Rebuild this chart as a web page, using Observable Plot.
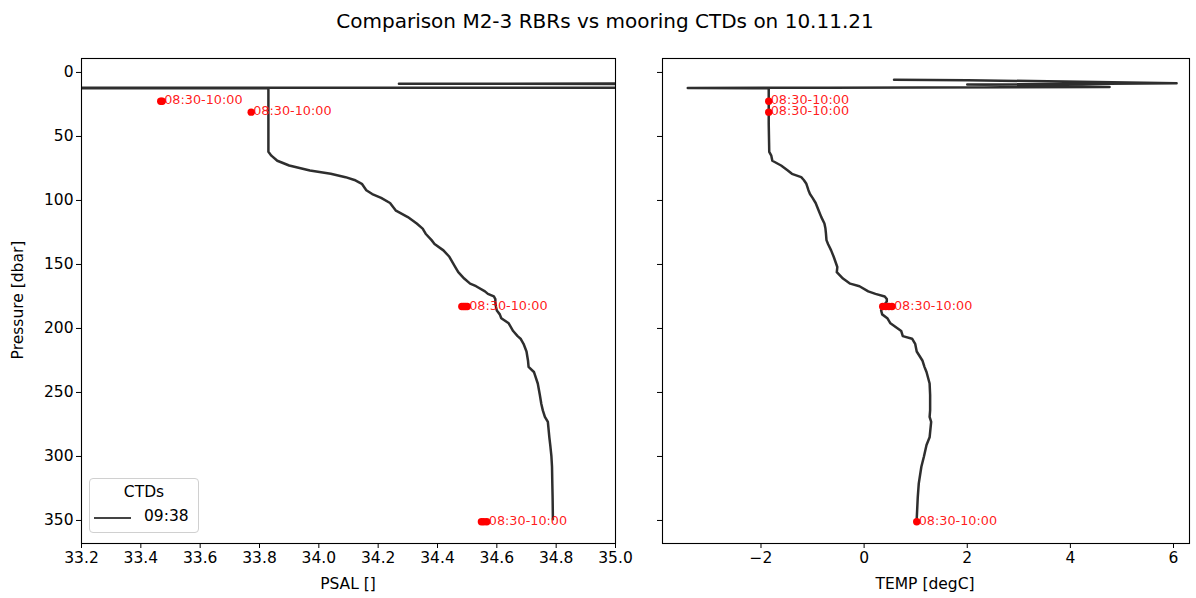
<!DOCTYPE html>
<html>
<head>
<meta charset="utf-8">
<script src="https://cdn.jsdelivr.net/npm/d3@7"></script>
<script src="https://cdn.jsdelivr.net/npm/@observablehq/plot@0.6"></script>
<style>
  html, body { margin: 0; padding: 0; background: white; }
  #fig { position: relative; width: 1196px; height: 598px; font-family: "DejaVu Sans", sans-serif; color: black; overflow: hidden; background: white; }
  #fig .abs { position: absolute; white-space: nowrap; z-index: 2; }
  #title { top: 9px; left: 605px; transform: translateX(-50%); font-size: 20px; }
  .axlabel { font-size: 15.5px; }
  #legend { left: 89px; top: 478px; width: 110px; height: 55px; border: 1px solid #d0d0d0; border-radius: 4px; background: rgba(255,255,255,0.8); box-sizing: border-box; }
</style>
</head>
<body>
<div id="fig">
  <div id="title" class="abs"></div>
</div>
<script>
// ---- CTD cast (09:38): pressure [dbar], PSAL [], TEMP [degC] ----
const ctdPressure = [5.7, 6.0, 8.4, 8.8, 9.4, 11.3, 11.9, 12.2, 12.3, 12.4,
  20, 40, 62, 65, 69, 72.7, 76.6, 79.2, 81.8, 84, 87, 92, 95, 98, 102, 108, 113, 118, 122, 126,
  131, 134, 139, 144, 152, 156, 161, 165, 167, 171, 173, 175, 177, 179, 183, 186, 189, 192, 196,
  202, 206, 208, 212, 218, 225, 230, 234, 243, 252, 259, 264, 269, 273, 285, 291, 300, 308, 321, 332, 349];
const ctdPsal = [37.2, 37.0, 36.8, 34.27, 36.5, 36.2, 36.0, 20.0, 28.0, 33.83,
  33.83, 33.83, 33.83, 33.84, 33.86, 33.90, 33.97, 34.04, 34.09, 34.12, 34.145, 34.16, 34.18, 34.21, 34.24, 34.26, 34.30, 34.33, 34.35, 34.36,
  34.38, 34.39, 34.42, 34.44, 34.46, 34.47, 34.49, 34.51, 34.53, 34.56, 34.57, 34.59, 34.595, 34.595, 34.597, 34.60, 34.61, 34.615, 34.64,
  34.655, 34.67, 34.68, 34.69, 34.70, 34.705, 34.707, 34.725, 34.738, 34.745, 34.75, 34.755, 34.762, 34.772, 34.777, 34.78, 34.784, 34.786, 34.787, 34.788, 34.789];
const ctdTemp = [0.58, 2.0, 6.06, 4.76, 2.0, 4.76, -0.69, -3.42, -2.16, -1.85,
  -1.85, -1.85, -1.84, -1.80, -1.78, -1.61, -1.48, -1.40, -1.22, -1.17, -1.12, -1.08, -1.05, -1.00, -0.94, -0.88, -0.83, -0.77, -0.75, -0.74,
  -0.73, -0.70, -0.64, -0.59, -0.52, -0.53, -0.41, -0.27, -0.09, 0.08, 0.22, 0.40, 0.44, 0.44, 0.36, 0.33, 0.35, 0.45, 0.51,
  0.72, 0.75, 0.93, 0.99, 1.02, 1.13, 1.17, 1.21, 1.27, 1.28, 1.28, 1.28, 1.27, 1.30, 1.27, 1.21, 1.16, 1.11, 1.06, 1.04, 1.02];
const ctdLabel = "09:38";

// ---- Moored RBRs, samples 08:30-10:00 ----
const rbrPressure = [22.5, 31.0, 182.8, 351.0];
const rbrPsal = [[33.467, 33.472], [33.772], [34.482, 34.488, 34.494, 34.500], [34.548, 34.556, 34.566]];
const rbrTemp = [[-1.85], [-1.85], [0.36, 0.42, 0.48, 0.54], [1.02]];
const rbrLabel = "08:30-10:00";

// ---- axes ----
const pressureTicks = [0, 50, 100, 150, 200, 250, 300, 350];
const psalTicks = [33.2, 33.4, 33.6, 33.8, 34.0, 34.2, 34.4, 34.6, 34.8, 35.0];
const tempTicks = [-2, 0, 2, 4, 6];
const titleText = "Comparison M2-3 RBRs vs mooring CTDs on 10.11.21";

// tables built from the arrays
const ctd = ctdPressure.map((p, i) => ({p, psal: ctdPsal[i], temp: ctdTemp[i]}));
const dotsFrom = vals => vals.flatMap((arr, i) => arr.map(v => ({p: rbrPressure[i], v})));
const labelsFrom = vals => vals.map((arr, i) => ({p: rbrPressure[i], v: d3.max(arr), t: rbrLabel}));

const H = 598, MT = 58, MB = 55;
const yOpts = {domain: [-10.9, 368], reverse: true, ticks: pressureTicks, label: null, tickSize: 5, tickPadding: 3};
const styleStr = "font-family:'DejaVu Sans',sans-serif;font-size:15.5px;color:black;background:transparent;overflow:visible;";

function panel({width, ml, mr, xDomain, xTicks, xFormat, field, vals, showYLabels}) {
  return Plot.plot({
    width, height: H, marginLeft: ml, marginRight: mr, marginTop: MT, marginBottom: MB,
    style: styleStr,
    x: {domain: xDomain, ticks: xTicks, tickFormat: xFormat, label: null, tickSize: 5, tickPadding: 3},
    y: {...yOpts, tickFormat: showYLabels ? d3.format("d") : () => ""},
    marks: [
      Plot.line(ctd, {x: field, y: "p", stroke: "black", strokeOpacity: 0.82, strokeWidth: 2.5, clip: true}),
      Plot.dot(dotsFrom(vals), {x: "v", y: "p", r: 3.7, fill: "red", stroke: "none", clip: true}),
      Plot.text(labelsFrom(vals), {x: "v", y: "p", text: "t", fill: "red", fillOpacity: 0.9, fontSize: 12.8, textAnchor: "start", lineAnchor: "middle", dx: 2, dy: -1}),
      Plot.frame({stroke: "black", strokeWidth: 1.1})
    ]
  });
}

const fig = document.getElementById("fig");

const left = panel({width: 640, ml: 81, mr: 25, xDomain: [33.2, 35.0], xTicks: psalTicks,
  xFormat: d3.format(".1f"), field: "psal", vals: rbrPsal, showYLabels: true});
left.style.position = "absolute"; left.style.left = "0px"; left.style.top = "0px"; left.style.zIndex = "1";
fig.appendChild(left);

const right = panel({width: 556, ml: 22, mr: 7, xDomain: [-3.91, 6.31], xTicks: tempTicks,
  xFormat: d3.format("d"), field: "temp", vals: rbrTemp, showYLabels: false});
right.style.position = "absolute"; right.style.left = "640px"; right.style.top = "0px"; right.style.zIndex = "1";
fig.appendChild(right);

function addText(txt, css, cls) {
  const d = document.createElement("div");
  d.className = "abs " + (cls || "");
  d.textContent = txt;
  Object.assign(d.style, css);
  fig.appendChild(d);
  return d;
}
document.getElementById("title").textContent = titleText;
addText("PSAL []", {left: "348px", top: "575px", transform: "translateX(-50%)"}, "axlabel");
addText("TEMP [degC]", {left: "925px", top: "575px", transform: "translateX(-50%)"}, "axlabel");
addText("Pressure [dbar]", {left: "18px", top: "300px", transform: "translate(-50%,-50%) rotate(-90deg)"}, "axlabel");

// legend
const lg = document.createElement("div");
lg.id = "legend"; lg.className = "abs";
lg.innerHTML = `<div style="position:absolute;left:0;right:0;top:4px;text-align:center;font-size:15.5px;">CTDs</div>
<div style="position:absolute;left:4px;top:38px;width:37px;height:0;border-top:2px solid #444;"></div>
<div style="position:absolute;left:54px;top:28px;font-size:15.5px;">${ctdLabel}</div>`;
fig.appendChild(lg);
</script>
</body>
</html>
